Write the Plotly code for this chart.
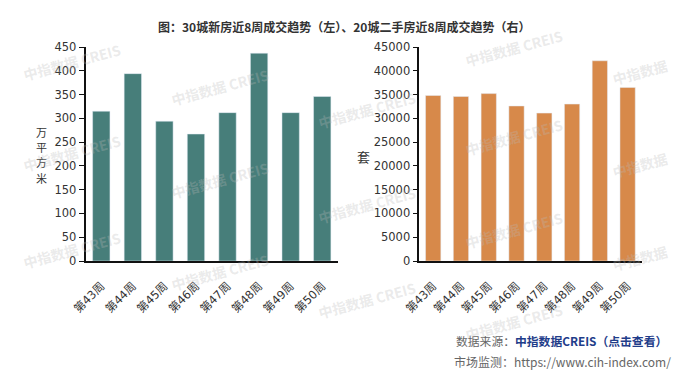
import plotly.graph_objects as go

weeks = ["第43周", "第44周", "第45周", "第46周", "第47周", "第48周", "第49周", "第50周"]
new_home = [315, 394, 294, 267, 312, 437, 312, 346]
second_home = [34800, 34600, 35200, 32600, 31100, 33000, 42100, 36500]

title_text = "图：30城新房近8周成交趋势（左）、20城二手房近8周成交趋势（右）"
left_unit = "万平方米"
right_unit = "套"
wm_text = "中指数据 CREIS"
wm_text_short = "中指数据"

W, H = 688, 375
OFF = 8  # page body margin offset
teal = "#477e7a"
orange = "#d7894a"
FONT = "DejaVu Sans, Noto Sans CJK SC, sans-serif"
CJK = "Noto Sans CJK SC, sans-serif"

def px(x):
    return (x - OFF) / W

def py(y):
    return 1 - (y - OFF) / H

fig = go.Figure()
fig.add_trace(go.Bar(x=weeks, y=new_home, marker=dict(color=teal), xaxis="x", yaxis="y", showlegend=False))
fig.add_trace(go.Bar(x=weeks, y=second_home, marker=dict(color=orange), xaxis="x2", yaxis="y2", showlegend=False))

axis_common = dict(showline=True, linecolor="#111", linewidth=1.5, showgrid=False, zeroline=False,
                   automargin=False)
yb, yt = py(261), py(47)
xtick = dict(family=FONT, size=11.5, color="#333")
ytick = dict(family=FONT, size=11.5, color="#333")

fig.update_layout(
    width=W, height=H,
    margin=dict(l=0, r=0, t=0, b=0),
    paper_bgcolor="white", plot_bgcolor="white",
    bargap=0.45,
    xaxis=dict(domain=[px(85.5), px(338)], anchor="y", tickangle=-45, ticks="", ticklabelstandoff=12,
               tickfont=xtick, **axis_common),
    yaxis=dict(domain=[yb, yt], anchor="x", range=[0, 450], dtick=50, ticks="outside", ticklen=5,
               tickcolor="#111", tickwidth=1.2, tickfont=ytick, **axis_common),
    xaxis2=dict(domain=[px(419.3), px(641.5)], anchor="y2", tickangle=-45, ticks="", ticklabelstandoff=12,
                tickfont=xtick, **axis_common),
    yaxis2=dict(domain=[yb, yt], anchor="x2", range=[0, 45000], dtick=5000, ticks="outside", ticklen=5,
                tickformat="d", tickcolor="#111", tickwidth=1.2, tickfont=ytick, **axis_common),
)

ann = []
ann.append(dict(text="<b>" + title_text + "</b>", x=px(344), y=py(27), xref="paper", yref="paper",
                showarrow=False, font=dict(family=CJK, size=12, color="#333"), xanchor="center", yanchor="middle"))
for i, ch in enumerate(left_unit):
    ann.append(dict(text=ch, x=px(41), y=py(132 + 15.2 * i), xref="paper", yref="paper",
                    showarrow=False, font=dict(family=CJK, size=11, color="#333"), borderpad=0,
                    xanchor="center", yanchor="middle"))
ann.append(dict(text=right_unit, x=px(363), y=py(156), xref="paper", yref="paper",
                showarrow=False, font=dict(family=CJK, size=13, color="#333"), xanchor="center", yanchor="middle"))
ann.append(dict(text="数据来源：<b><span style='color:#1f3d8a'>中指数据CREIS（点击查看）</span></b>",
                x=px(669), y=py(340), xref="paper", yref="paper", showarrow=False,
                font=dict(family=CJK, size=11.8, color="#666"), xanchor="right", yanchor="middle"))
ann.append(dict(text="市场监测：https://www.cih-index.com/",
                x=px(673), y=py(361), xref="paper", yref="paper", showarrow=False,
                font=dict(family=CJK, size=12, color="#666"), xanchor="right", yanchor="middle"))

wm_pos = [(72, 62), (72, 153), (72, 250),
          (220, 87), (220, 180), (220, 272),
          (367, 110), (367, 205), (367, 300),
          (514, 48), (514, 137), (514, 230), (514, 322)]
for (x, y) in wm_pos:
    ann.append(dict(text="<b>" + wm_text + "</b>", x=px(x), y=py(y), xref="paper", yref="paper",
                    showarrow=False, textangle=-15,
                    font=dict(family=CJK, size=14, color="rgba(185,185,185,0.3)"),
                    xanchor="center", yanchor="middle"))
wm_edge = [(640, 72), (640, 165), (640, 258)]
for (x, y) in wm_edge:
    ann.append(dict(text="<b>" + wm_text_short + "</b>", x=px(x), y=py(y), xref="paper", yref="paper",
                    showarrow=False, textangle=-15,
                    font=dict(family=CJK, size=14, color="rgba(185,185,185,0.3)"),
                    xanchor="center", yanchor="middle"))

fig.update_layout(annotations=ann)
fig.write_html("out.html")
